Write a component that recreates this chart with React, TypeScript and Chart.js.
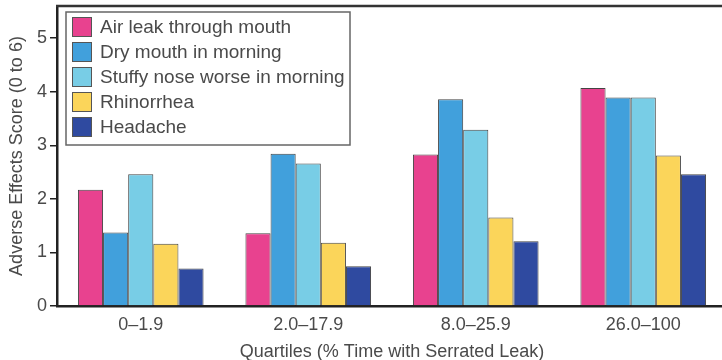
import React, { useEffect, useRef } from "react";
import { Chart, registerables } from "chart.js";

Chart.register(...registerables);

const categories = ["0\u20131.9", "2.0\u201317.9", "8.0\u201325.9", "26.0\u2013100"];
const seriesNames = [
  "Air leak through mouth",
  "Dry mouth in morning",
  "Stuffy nose worse in morning",
  "Rhinorrhea",
  "Headache",
];
const airLeak = [2.17, 1.36, 2.83, 4.07];
const dryMouth = [1.37, 2.84, 3.86, 3.89];
const stuffyNose = [2.46, 2.66, 3.29, 3.89];
const rhinorrhea = [1.16, 1.18, 1.65, 2.81];
const headache = [0.7, 0.74, 1.21, 2.46];
const seriesColors = ["#e8428f", "#41a0dc", "#78cde6", "#fbd55a", "#2f4aa0"];
const yTickValues = [0, 1, 2, 3, 4, 5];
const yMax = 5.6;
const xTitle = "Quartiles (% Time with Serrated Leak)";
const yTitle = "Adverse Effects Score (0 to 6)";

const FONT = "'Liberation Sans', Arial, Helvetica, sans-serif";
const TEXT = "#4a4a4a";

const decorPlugin = {
  id: "decor",
  afterDraw(chart: any) {
    const { ctx, chartArea } = chart;
    ctx.save();
    // top frame line
    ctx.strokeStyle = "#333";
    ctx.lineWidth = 2.5;
    ctx.beginPath();
    ctx.moveTo(chartArea.left - 1, chartArea.top);
    ctx.lineTo(chartArea.right + 10, chartArea.top);
    ctx.stroke();

    // legend
    const bx = chartArea.left + 9;
    const by = chartArea.top + 6;
    const bw = 284;
    const bh = 133;
    ctx.fillStyle = "#fff";
    ctx.fillRect(bx, by, bw, bh);
    ctx.strokeStyle = "#666";
    ctx.lineWidth = 1.5;
    ctx.strokeRect(bx, by, bw, bh);
    ctx.font = `19px ${FONT}`;
    ctx.textBaseline = "middle";
    ctx.textAlign = "left";
    chart.data.datasets.forEach((ds: any, i: number) => {
      const cy = by + 15 + i * 25;
      ctx.fillStyle = ds.backgroundColor;
      ctx.fillRect(bx + 6, cy - 10, 20, 20);
      ctx.strokeStyle = "#555";
      ctx.lineWidth = 1;
      ctx.strokeRect(bx + 6.5, cy - 9.5, 19, 19);
      ctx.fillStyle = TEXT;
      ctx.fillText(ds.label, bx + 34, cy + 1);
    });
    ctx.restore();
  },
};

export default function App() {
  const ref = useRef<HTMLCanvasElement | null>(null);
  useEffect(() => {
    if (!ref.current) return;
    const series = [airLeak, dryMouth, stuffyNose, rhinorrhea, headache];
    const chart = new Chart(ref.current, {
      type: "bar",
      data: {
        labels: categories,
        datasets: series.map((d, i) => ({
          label: seriesNames[i],
          data: d,
          backgroundColor: seriesColors[i],
          borderColor: "#444",
          borderWidth: 1,
          categoryPercentage: 0.75,
          barPercentage: 1.0,
        })),
      },
      options: {
        animation: false,
        responsive: false,
        maintainAspectRatio: false,
        layout: { padding: { top: 6, left: 0, right: 0, bottom: 0 } },
        plugins: { legend: { display: false }, tooltip: { enabled: false } },
        scales: {
          x: {
            offset: true,
            grid: { display: false, drawTicks: false },
            border: { display: true, color: "#222", width: 2.5 },
            ticks: {
              color: TEXT,
              font: { family: FONT, size: 18 },
              padding: 8,
            },
            title: {
              display: true,
              text: xTitle,
              color: TEXT,
              font: { family: FONT, size: 18 },
              padding: { top: 9, bottom: -3 },
            },
            afterFit: (s: any) => {
              s.height = 54;
              s.paddingLeft = 0;
              s.paddingRight = 0;
            },
          },
          y: {
            min: 0,
            max: yMax,
            afterBuildTicks: (s: any) => {
              s.ticks = yTickValues.map((v) => ({ value: v }));
            },
            grid: {
              display: true,
              drawOnChartArea: false,
              drawTicks: true,
              tickLength: 7,
              color: "#222",
              lineWidth: 1.5,
            },
            border: { display: true, color: "#222", width: 2.5 },
            ticks: {
              color: TEXT,
              font: { family: FONT, size: 18 },
              padding: 3,
            },
            title: {
              display: true,
              text: yTitle,
              color: TEXT,
              font: { family: FONT, size: 18 },
              padding: { top: 6, bottom: 0 },
            },
            afterFit: (s: any) => {
              s.width = 57;
              s.paddingTop = 0;
              s.paddingBottom = 0;
            },
          },
        },
      },
      plugins: [decorPlugin],
    });
    return () => chart.destroy();
  }, []);
  return (
    <div
      style={{
        position: "fixed",
        left: 0,
        top: 0,
        width: 722,
        height: 360,
        overflow: "hidden",
        background: "#fff",
      }}
    >
      <canvas ref={ref} width={727} height={360} style={{ display: "block" }} />
    </div>
  );
}
